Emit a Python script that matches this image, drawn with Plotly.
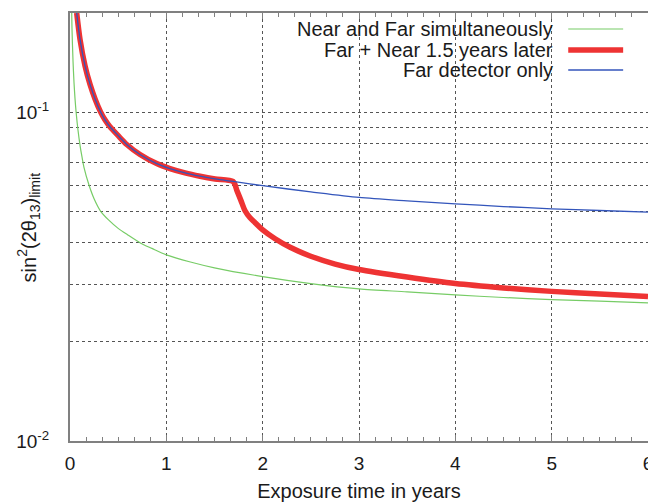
import plotly.graph_objects as go

# ---- data ----
green_t = [0.0177, 0.0208, 0.0312, 0.0415, 0.0519, 0.0633, 0.0831, 0.104, 0.125, 0.145, 0.197, 0.25, 0.317,
           0.4, 0.5, 0.6, 0.73, 0.85, 1.0, 1.25, 1.5, 2.0, 2.5, 3.0, 3.5, 4.0, 4.5, 5.0, 5.5, 6.0]
green_v = [0.2, 0.179, 0.143, 0.123, 0.110, 0.100, 0.088, 0.0792, 0.0729, 0.0679, 0.060, 0.0545, 0.050,
           0.047, 0.0443, 0.0423, 0.040, 0.0385, 0.0368, 0.0350, 0.0336, 0.0316, 0.0301, 0.0290, 0.0284, 0.0278,
           0.0273, 0.0269, 0.0266, 0.0263]

red_t = [0.0696, 0.104, 0.156, 0.208, 0.260, 0.317, 0.363, 0.415, 0.498, 0.589, 0.727, 0.900, 1.038, 1.194,
         1.350, 1.506, 1.693,
         1.734, 1.776, 1.817, 1.869, 1.921, 1.994, 2.129, 2.285, 2.492, 2.752, 3.0, 3.5, 4.0, 4.5, 5.0, 5.5, 6.0]
red_v = [0.2, 0.1663, 0.1382, 0.1213, 0.1096, 0.1001, 0.0947, 0.0902, 0.0849, 0.0797, 0.0743, 0.0697, 0.0673,
         0.0653, 0.0638, 0.0626, 0.0615,
         0.0576, 0.0537, 0.0501, 0.0477, 0.0461, 0.0440, 0.0412, 0.0388, 0.0365, 0.0345, 0.0332, 0.0315, 0.0301,
         0.0292, 0.0285, 0.0280, 0.0275]

blue_t = [0.0696, 0.104, 0.156, 0.208, 0.260, 0.317, 0.363, 0.415, 0.498, 0.589, 0.727, 0.900, 1.038, 1.194,
          1.350, 1.506, 1.693, 2.0, 2.5, 3.0, 3.5, 4.0, 4.5, 5.0, 5.5, 6.0]
blue_v = [0.2, 0.1663, 0.1382, 0.1213, 0.1096, 0.1001, 0.0947, 0.0902, 0.0849, 0.0797, 0.0743, 0.0697, 0.0673,
          0.0653, 0.0638, 0.0626, 0.0615, 0.0597, 0.0572, 0.0550, 0.0537, 0.0526, 0.0516, 0.0508, 0.0502, 0.0496]

series_names = ["Near and Far simultaneously", "Far + Near 1.5 years later", "Far detector only"]
x_ticks = [0, 1, 2, 3, 4, 5, 6]
y_grid = [0.01, 0.02, 0.03, 0.04, 0.05, 0.06, 0.07, 0.08, 0.09, 0.1]
y_labels = {0.01: "10<sup>-2</sup>", 0.1: "10<sup>-1</sup>"}
x_title = "Exposure time in years"
y_title = "sin<sup>2</sup>(2θ<sub>13</sub>)<sub>limit</sub>"

colors = ["#77cc66", "#ee3333", "#3355bb"]
widths = [1.2, 5.5, 1.3]

FONT = "Liberation Sans, Arial, sans-serif"
FS = 20
TFS = 19

fig = go.Figure()
for (t, v), name, c, w in zip([(green_t, green_v), (red_t, red_v), (blue_t, blue_v)], series_names, colors, widths):
    fig.add_trace(go.Scatter(x=t, y=v, mode="lines", name=name,
                             line=dict(color=c, width=w, shape="spline", smoothing=0.8),
                             showlegend=False))

# legend (gnuplot style: text left, sample right)
shapes = [dict(type="rect", xref="paper", yref="paper", x0=0.38, x1=0.995, y0=0.832, y1=0.99,
               fillcolor="white", line=dict(width=0), layer="between")]
annotations = []
leg_y = [0.9626, 0.9136, 0.8668]
for name, c, w, yy in zip(series_names, colors, widths, leg_y):
    annotations.append(dict(xref="paper", yref="paper", x=0.839, y=yy, text=name, showarrow=False,
                            xanchor="right", yanchor="middle",
                            font=dict(family=FONT, size=FS, color="#1a1a1a")))
    shapes.append(dict(type="line", xref="paper", yref="paper", x0=0.862, x1=0.957, y0=yy, y1=yy,
                       line=dict(color=c, width=w), layer="above"))

# y-axis title as a rotated annotation
annotations.append(dict(xref="paper", yref="paper", x=-0.072, y=0.5, text=y_title, textangle=-90,
                        showarrow=False, xanchor="center", yanchor="middle",
                        font=dict(family=FONT, size=FS, color="#1a1a1a")))

# the page body has an 8px default margin, so the figure is sized to fit inside the window
fig.update_layout(
    width=648, height=494,
    margin=dict(l=62, r=8, t=5, b=61),
    paper_bgcolor="white", plot_bgcolor="white",
    font=dict(family=FONT, size=FS, color="#1a1a1a"),
    shapes=shapes, annotations=annotations,
    showlegend=False,
)

fig.update_xaxes(
    range=[0, 6], tickvals=x_ticks, ticktext=[str(v) for v in x_ticks],
    showgrid=True, gridcolor="#555555", griddash="dot", gridwidth=1,
    showline=True, linecolor="#808080", linewidth=2, mirror="allticks",
    ticks="inside", ticklen=6, tickcolor="#808080", tickwidth=1,
    minor=dict(dtick=1/6, ticks="inside", ticklen=4, tickcolor="#808080", showgrid=False),
    zeroline=False, ticklabelstandoff=4, automargin=False,
    title=dict(text=x_title, font=dict(size=FS), standoff=11),
    tickfont=dict(size=TFS),
)

fig.update_yaxes(
    type="log", range=[-2, -0.699],
    tickvals=y_grid, ticktext=[y_labels.get(v, "") for v in y_grid],
    showgrid=True, gridcolor="#555555", griddash="dot", gridwidth=1,
    showline=True, linecolor="#808080", linewidth=2, mirror=True,
    ticks="", zeroline=False, ticklabelstandoff=15, automargin=False,
    tickfont=dict(size=TFS),
)

fig.write_html("out.html")
